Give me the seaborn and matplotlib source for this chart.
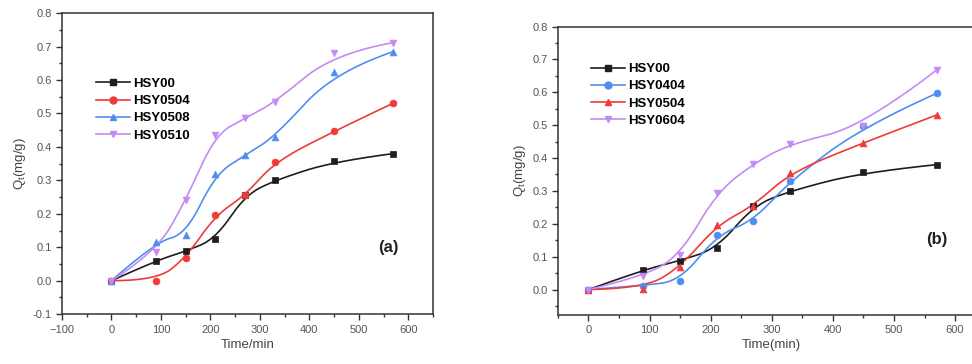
import numpy as np
import pandas as pd
import seaborn as sns
import matplotlib.pyplot as plt
from matplotlib.lines import Line2D
from matplotlib.ticker import MultipleLocator

# sampling times (min)
time = [0, 90, 150, 210, 270, 330, 450, 570]

# panel (a)
a_hsy00 = [0, 0.060, 0.088, 0.125, 0.255, 0.300, 0.357, 0.380]
a_hsy0504 = [0, 0.000, 0.068, 0.195, 0.255, 0.355, 0.447, 0.531]
a_hsy0508 = [0, 0.117, 0.138, 0.318, 0.375, 0.430, 0.625, 0.685]
a_hsy0510 = [0, 0.085, 0.240, 0.437, 0.485, 0.533, 0.680, 0.712]

# panel (b)
b_hsy00 = [0, 0.060, 0.088, 0.125, 0.255, 0.300, 0.357, 0.380]
b_hsy0404 = [0, 0.012, 0.027, 0.165, 0.210, 0.330, 0.497, 0.597]
b_hsy0504 = [0, 0.003, 0.068, 0.195, 0.255, 0.355, 0.447, 0.531]
b_hsy0604 = [0, 0.040, 0.105, 0.295, 0.383, 0.443, 0.497, 0.668]

BLACK = '#1e1e1e'
RED = '#f03a3a'
BLUE = '#4f8ef0'
VIOLET = '#c58af5'


def bspline(x, y, k=2, n=300):
    # clamped B-spline using the data points as control points (Origin style)
    P = np.column_stack([x, y]).astype(float)
    m = len(P)
    inner = np.linspace(0, 1, m - k + 1)[1:-1]
    t = np.concatenate([np.zeros(k + 1), inner, np.ones(k + 1)])
    u = np.linspace(0, 1, n)
    u[-1] -= 1e-9
    N = np.zeros((n, len(t) - 1))
    for i in range(len(t) - 1):
        N[:, i] = ((u >= t[i]) & (u < t[i + 1])).astype(float)
    for d in range(1, k + 1):
        Nn = np.zeros((n, len(t) - 1 - d))
        for i in range(len(t) - 1 - d):
            den1 = t[i + d] - t[i]
            den2 = t[i + d + 1] - t[i + 1]
            term = np.zeros(n)
            if den1 > 0:
                term += (u - t[i]) / den1 * N[:, i]
            if den2 > 0:
                term += (t[i + d + 1] - u) / den2 * N[:, i + 1]
            Nn[:, i] = term
        N = Nn
    C = N @ P
    return C[:, 0], C[:, 1]


plt.rcParams['font.family'] = ['Liberation Sans', 'DejaVu Sans']

fig = plt.figure(figsize=(9.72, 3.64), dpi=100)
ax_a = fig.add_axes([0.0638, 0.137, 0.3817, 0.827])
ax_b = fig.add_axes([0.574, 0.135, 0.44, 0.792])


def draw(ax, series, xlim, ylim, xlabel, tag, tag_xy):
    handles = []
    for name, vals, color, marker in series:
        sx, sy = bspline(time, vals)
        sns.lineplot(x=sx, y=sy, ax=ax, color=color, lw=1.2, sort=False,
                     estimator=None)
        sns.scatterplot(x=time, y=vals, ax=ax, color=color, marker=marker,
                        s=24, edgecolor=color, linewidth=0.5, zorder=3)
        handles.append(Line2D([0], [0], color=color, lw=1.2, marker=marker,
                              markersize=5, label=name))
    ax.set_xlim(*xlim)
    ax.set_ylim(*ylim)
    ax.xaxis.set_major_locator(MultipleLocator(100))
    ax.xaxis.set_minor_locator(MultipleLocator(50))
    ax.yaxis.set_major_locator(MultipleLocator(0.1))
    ax.yaxis.set_minor_locator(MultipleLocator(0.05))
    ax.yaxis.set_major_formatter(lambda v, p: f'{v:.1f}')
    ax.tick_params(which='major', direction='out', length=4, width=1,
                   colors='#333333', labelcolor='#555555', labelsize=8,
                   top=False, right=False)
    ax.tick_params(which='minor', direction='out', length=2.5, width=1,
                   colors='#333333', top=False, right=False)
    for sp in ax.spines.values():
        sp.set_color('#333333')
        sp.set_linewidth(1.1)
    ax.set_xlabel(xlabel, fontsize=9.5, color='#444444', labelpad=3)
    ax.set_ylabel('Q$_\\mathregular{t}$(mg/g)', fontsize=9.5, color='#444444',
                  labelpad=3)
    ax.legend(handles=handles, loc='upper left', frameon=False,
              bbox_to_anchor=tag_xy[2], handlelength=2.6, handletextpad=0.2,
              labelspacing=0.38, prop={'weight': 'bold', 'size': 9.5})
    ax.text(tag_xy[0], tag_xy[1], tag, transform=ax.transAxes, fontsize=12,
            fontweight='bold', color='#222222', ha='center', va='center')


draw(ax_a,
     [('HSY00', a_hsy00, BLACK, 's'), ('HSY0504', a_hsy0504, RED, 'o'),
      ('HSY0508', a_hsy0508, BLUE, '^'), ('HSY0510', a_hsy0510, VIOLET, 'v')],
     (-100, 650), (-0.1, 0.8), 'Time/min', '(a)', (0.88, 0.22, (0.06, 0.825)))

draw(ax_b,
     [('HSY00', b_hsy00, BLACK, 's'), ('HSY0404', b_hsy0404, BLUE, 'o'),
      ('HSY0504', b_hsy0504, RED, '^'), ('HSY0604', b_hsy0604, VIOLET, 'v')],
     (-50, 650), (-0.077, 0.8), 'Time(min)', '(b)', (0.885, 0.26, (0.05, 0.915)))

fig.savefig('out.png', dpi=100)
